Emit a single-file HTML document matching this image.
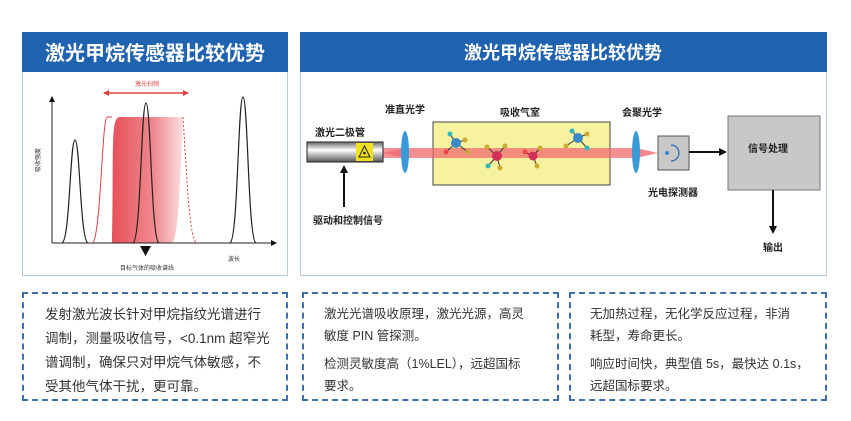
<!DOCTYPE html>
<html><head><meta charset="utf-8"><style>
body{margin:0;background:#fff;width:851px;height:421px;overflow:hidden;font-family:"Liberation Sans","Noto Sans CJK SC",sans-serif}
.box{position:absolute;border:2px dashed #3f6fa8;box-sizing:border-box;color:#333;white-space:nowrap}
.box p{margin:0}
</style></head><body>
<svg width="851" height="421" style="position:absolute;left:0;top:0" font-family="Liberation Sans, Noto Sans CJK SC, sans-serif">
<defs>
<linearGradient id="rg" x1="0" x2="1"><stop offset="0" stop-color="#e8505a"/><stop offset="0.6" stop-color="#f08a90"/><stop offset="1" stop-color="#fbe0e2"/></linearGradient>
<linearGradient id="tube" x1="0" y1="0" x2="0" y2="1"><stop offset="0" stop-color="#666"/><stop offset="0.4" stop-color="#fff"/><stop offset="1" stop-color="#555"/></linearGradient>
<marker id="ah" markerUnits="userSpaceOnUse" markerWidth="8" markerHeight="8" refX="6" refY="4" orient="auto"><path d="M0,0L8,4L0,8z" fill="#111"/></marker>
<marker id="ahs" markerUnits="userSpaceOnUse" markerWidth="6" markerHeight="6" refX="5" refY="3" orient="auto"><path d="M0,0L6,3L0,6z" fill="#111"/></marker>
<marker id="rh" markerUnits="userSpaceOnUse" markerWidth="6" markerHeight="6" refX="5" refY="3" orient="auto-start-reverse"><path d="M0,0L6,3L0,6z" fill="#e04040"/></marker>
</defs>
<!-- left panel -->
<rect x="22.5" y="32.5" width="265" height="243" fill="#fff" stroke="#b8c8e0"/>
<rect x="22" y="32" width="266" height="40" fill="#1f62b0"/>
<text x="155" y="60" font-size="20" font-weight="bold" fill="#fff" text-anchor="middle">激光甲烷传感器比较优势</text>
<text x="147" y="86" font-size="6" fill="#e04040" text-anchor="middle">激光扫频</text>
<line x1="104" y1="93" x2="188" y2="93" stroke="#e04040" stroke-width="1.5" marker-start="url(#rh)" marker-end="url(#rh)"/>
<path d="M112,243 C114,150 110,117 120,117 L183,117 C180,190 178,240 172,243Z" fill="url(#rg)"/>
<path d="M93,243 C101,230 102,120 107,117 L112,117" fill="none" stroke="#e04040" stroke-width="1"/>
<path d="M183,117 C188,200 190,235 196,243" fill="none" stroke="#e04040" stroke-width="1" stroke-dasharray="2,2"/>
<path d="M62,243 C70,240 70,140 75,140 C80,140 80,240 88,243" fill="none" stroke="#222" stroke-width="1.2"/>
<path d="M133,243 C141,240 141,103 146,103 C151,103 151,240 159,243" fill="none" stroke="#222" stroke-width="1.2"/>
<path d="M230,243 C238,240 238,97 243,97 C248,97 248,240 256,243" fill="none" stroke="#222" stroke-width="1.2"/>
<line x1="52" y1="243" x2="52" y2="97" stroke="#222" marker-end="url(#ahs)"/>
<line x1="52" y1="243" x2="276" y2="243" stroke="#222" marker-end="url(#ahs)"/>
<path d="M140,246L151,246L145.5,256z" fill="#111"/>
<text x="147" y="270" font-size="6" fill="#333" text-anchor="middle">目标气体的吸收谱线</text>
<text x="228" y="261" font-size="6" fill="#333">波长</text>
<text x="40" y="160" font-size="6" fill="#333" transform="rotate(-90 40 160)" text-anchor="middle">吸收强度</text>
<!-- right panel -->
<rect x="300.5" y="32.5" width="526" height="243" fill="#fff" stroke="#b8c8e0"/>
<rect x="300" y="32" width="527" height="40" fill="#1f62b0"/>
<text x="563" y="59" font-size="18" font-weight="bold" fill="#fff" text-anchor="middle">激光甲烷传感器比较优势</text>
<rect x="433" y="122" width="177" height="63" fill="#f6f2a0" stroke="#444"/>
<rect x="383" y="148" width="253" height="10" fill="#f06a70" opacity="0.75"/>
<path d="M383,153L405,148L405,158z" fill="#f06a70" opacity="0.8"/>
<path d="M636,148L658,153L636,158z" fill="#f06a70" opacity="0.8"/>
<rect x="307" y="142" width="76" height="20" fill="url(#tube)" stroke="#222"/>
<rect x="356" y="143" width="17" height="18" fill="#f0e020"/>
<path d="M364.5,146L370,157L359,157z" fill="none" stroke="#222"/>
<circle cx="364.5" cy="153" r="1.3" fill="#222"/>
<ellipse cx="405" cy="152" rx="4" ry="21" fill="#3a9ad8"/>
<ellipse cx="636" cy="152" rx="4" ry="21" fill="#3a9ad8"/>
<g stroke="#333" stroke-width="1">
<path d="M456,143L450,134M456,143L465,140M456,143L446,152M456,143L468,152"/>
<path d="M497,156L487,147M497,156L505,146M497,156L488,166M497,156L500,168"/>
<path d="M533,156L525,152M533,156L540,148M533,156L537,166"/>
<path d="M578,138L572,131M578,138L587,134M578,138L566,146M578,138L587,148"/>
</g>
<circle cx="456" cy="143" r="5" fill="#3a8ac8"/><circle cx="450" cy="134" r="2.5" fill="#3bb"/><circle cx="465" cy="140" r="2.5" fill="#ca3"/><circle cx="446" cy="152" r="2.5" fill="#e44"/><circle cx="468" cy="152" r="2.5" fill="#ca3"/>
<circle cx="497" cy="156" r="5" fill="#d3305a"/><circle cx="487" cy="147" r="2.5" fill="#ca3"/><circle cx="505" cy="146" r="2.5" fill="#ca3"/><circle cx="488" cy="166" r="2.5" fill="#3bb"/><circle cx="500" cy="168" r="2.5" fill="#ca3"/>
<circle cx="533" cy="156" r="4.5" fill="#d3305a"/><circle cx="525" cy="152" r="2.5" fill="#e44"/><circle cx="540" cy="148" r="2.5" fill="#ca3"/><circle cx="537" cy="166" r="2.5" fill="#ca3"/>
<circle cx="578" cy="138" r="5" fill="#3a8ac8"/><circle cx="572" cy="131" r="2.5" fill="#3bb"/><circle cx="587" cy="134" r="2.5" fill="#ca3"/><circle cx="566" cy="146" r="2.5" fill="#ca3"/><circle cx="587" cy="148" r="2.5" fill="#3bb"/>
<rect x="658" y="136" width="31" height="34" fill="#c8c8c8" stroke="#555"/>
<circle cx="667" cy="153" r="2" fill="#2a8ad0"/>
<path d="M671,145A8,8 0 0 1 671,161" fill="none" stroke="#2a6ab0" stroke-width="1.2"/>
<line x1="689" y1="152" x2="725" y2="152" stroke="#111" stroke-width="2" marker-end="url(#ah)"/>
<rect x="728" y="116" width="92" height="74" fill="#c8c8c8" stroke="#777"/>
<line x1="773" y1="190" x2="773" y2="232" stroke="#111" stroke-width="2" marker-end="url(#ah)"/>
<line x1="344" y1="207" x2="344" y2="167" stroke="#111" stroke-width="2" marker-end="url(#ah)"/>
<g font-size="10" font-weight="bold" fill="#222" text-anchor="middle">
<text x="340" y="136">激光二极管</text>
<text x="405" y="113">准直光学</text>
<text x="520" y="116">吸收气室</text>
<text x="642" y="116">会聚光学</text>
<text x="673" y="196">光电探测器</text>
<text x="768" y="152">信号处理</text>
<text x="348" y="224">驱动和控制信号</text>
<text x="773" y="251">输出</text>
</g>
</svg>
<div class="box" style="left:22px;top:292px;width:266px;height:109px;padding:9px 0 0 21px;font-size:13.5px;line-height:24px">发射激光波长针对甲烷指纹光谱进行<br>调制，测量吸收信号，&lt;0.1nm 超窄光<br>谱调制，确保只对甲烷气体敏感，不<br>受其他气体干扰，更可靠。</div>
<div class="box" style="left:302px;top:292px;width:257px;height:109px;padding:9px 0 0 20px;font-size:12.5px;line-height:22px"><p>激光光谱吸收原理，激光光源，高灵<br>敏度 PIN 管探测。</p><p style="margin-top:6px">检测灵敏度高（1%LEL），远超国标<br>要求。</p></div>
<div class="box" style="left:569px;top:292px;width:258px;height:109px;padding:9px 0 0 19px;font-size:12.5px;line-height:22px"><p>无加热过程，无化学反应过程，非消<br>耗型，寿命更长。</p><p style="margin-top:6px">响应时间快，典型值 5s，最快达 0.1s，<br>远超国标要求。</p></div>
</body></html>
